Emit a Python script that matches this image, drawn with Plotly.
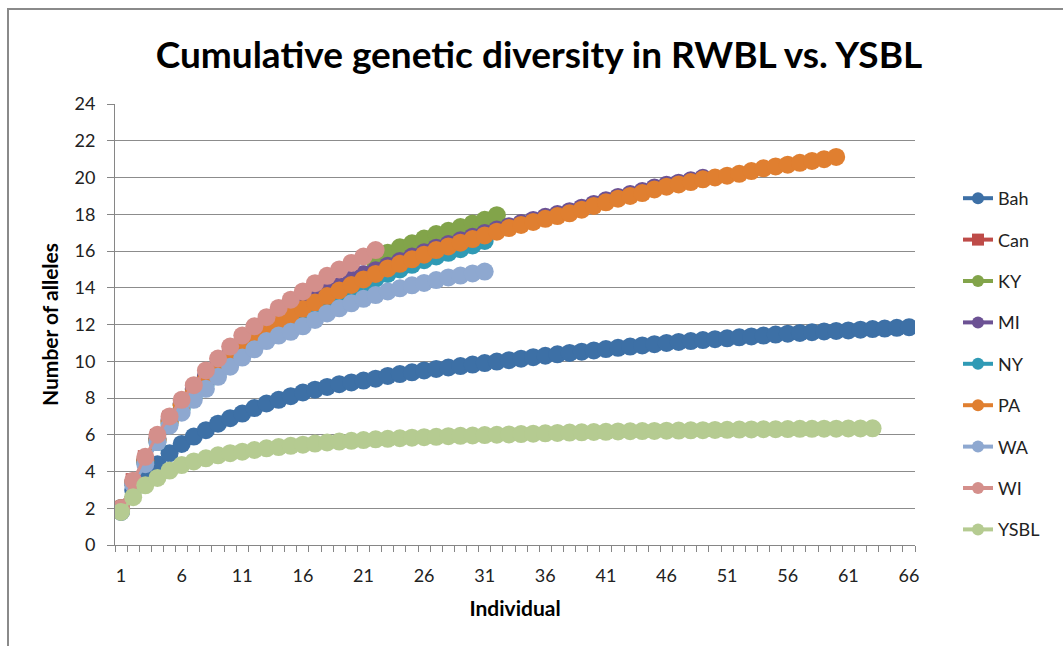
import plotly.graph_objects as go

# Cumulative number of alleles per individual sampled
bah = [1.8, 3.0, 3.8, 4.4, 5.0, 5.5, 5.9, 6.25, 6.6, 6.9, 7.15, 7.45, 7.7, 7.9, 8.1, 8.3,
       8.45, 8.6, 8.75, 8.85, 8.95, 9.05, 9.2, 9.3, 9.4, 9.5, 9.58, 9.66, 9.74, 9.82, 9.9,
       9.98, 10.06, 10.14, 10.22, 10.3, 10.38, 10.45, 10.52, 10.59, 10.66, 10.73, 10.8,
       10.86, 10.93, 11.0, 11.05, 11.1, 11.15, 11.2, 11.25, 11.3, 11.35, 11.4, 11.45, 11.5,
       11.54, 11.58, 11.62, 11.65, 11.68, 11.72, 11.75, 11.78, 11.82, 11.85]
can = [2.0, 3.5, 4.75, 5.9, 6.9, 7.75, 8.5, 9.25, 9.9, 10.5, 11.05, 11.55]
ky = [1.95, 3.35, 4.55, 5.75, 6.75, 7.65, 8.45, 9.15, 9.75, 10.35, 10.85, 11.35, 11.8,
      12.25, 12.65, 13.05, 13.4, 13.75, 14.05, 14.4, 14.7, 15.3, 15.9, 16.2, 16.42, 16.68,
      16.92, 17.1, 17.3, 17.5, 17.7, 17.95]
mi = [2.0, 3.4, 4.6, 5.8, 6.8, 7.7, 8.5, 9.2, 9.8, 10.4, 10.9, 11.4, 11.85, 12.3, 12.7,
      13.1, 13.45, 13.8, 14.1, 14.45, 14.75, 14.95, 15.2, 15.45, 15.7, 15.93, 16.18, 16.38,
      16.58, 16.78, 16.98, 17.17, 17.35, 17.52, 17.69, 17.86, 18.01, 18.17, 18.36, 18.56,
      18.76, 18.94, 19.1, 19.26, 19.45, 19.6, 19.72, 19.85, 19.98]
ny = [2.0, 3.4, 4.5, 5.6, 6.6, 7.4, 8.1, 8.8, 9.4, 9.95, 10.45, 10.9, 11.35, 11.8, 12.2,
      12.6, 12.95, 13.3, 13.6, 13.9, 14.2, 14.5, 14.75, 15.0, 15.25, 15.5, 15.7, 15.9, 16.1,
      16.3, 16.55]
pa = [2.0, 3.4, 4.6, 5.7, 6.7, 7.6, 8.3, 9.0, 9.6, 10.15, 10.7, 11.15, 11.6, 12.05, 12.5,
      12.85, 13.2, 13.55, 13.85, 14.15, 14.45, 14.75, 15.05, 15.3, 15.55, 15.8, 16.05, 16.25,
      16.45, 16.65, 16.85, 17.05, 17.25, 17.42, 17.58, 17.75, 17.9, 18.05, 18.25, 18.45,
      18.65, 18.85, 19.0, 19.15, 19.35, 19.5, 19.62, 19.75, 19.9, 20.0, 20.1, 20.2, 20.35,
      20.5, 20.6, 20.7, 20.8, 20.9, 21.0, 21.12]
wa = [1.9, 3.3, 4.4, 5.6, 6.5, 7.2, 7.9, 8.5, 9.15, 9.7, 10.2, 10.65, 11.1, 11.4, 11.6,
      11.9, 12.25, 12.6, 12.88, 13.15, 13.4, 13.6, 13.8, 13.97, 14.13, 14.26, 14.42, 14.56,
      14.66, 14.78, 14.88]
wi = [2.0, 3.5, 4.8, 6.0, 7.0, 7.9, 8.7, 9.5, 10.15, 10.8, 11.4, 11.9, 12.4, 12.9, 13.35,
      13.8, 14.25, 14.65, 15.0, 15.35, 15.7, 16.05]
ysbl = [1.8, 2.6, 3.25, 3.65, 4.05, 4.35, 4.55, 4.72, 4.88, 5.0, 5.08, 5.17, 5.26, 5.33,
        5.4, 5.46, 5.52, 5.58, 5.63, 5.67, 5.71, 5.75, 5.78, 5.81, 5.84, 5.87, 5.89, 5.92,
        5.94, 5.96, 5.98, 6.0, 6.02, 6.04, 6.06, 6.08, 6.1, 6.12, 6.13, 6.15, 6.16, 6.18,
        6.19, 6.2, 6.21, 6.22, 6.23, 6.24, 6.25, 6.26, 6.27, 6.28, 6.29, 6.3, 6.3, 6.31,
        6.32, 6.32, 6.33, 6.33, 6.34, 6.34, 6.35]

series_names = ["Bah", "Can", "KY", "MI", "NY", "PA", "WA", "WI", "YSBL"]
series_values = [bah, can, ky, mi, ny, pa, wa, wi, ysbl]
series_colors = ["#3D70A6", "#BE4B48", "#82A44A", "#6C5294", "#2F9AB5",
                 "#E07F30", "#8EA8D0", "#D48F8B", "#B5CB91"]
series_symbols = ["circle", "square", "circle", "circle", "circle",
                  "circle", "circle", "circle", "circle"]

x_tick_labels = [str(v) for v in range(1, 67, 5)]
y_tick_labels = [str(v) for v in range(0, 25, 2)]

FONT = "Lato"

fig = go.Figure()
for name, vals, color, sym in zip(series_names, series_values, series_colors, series_symbols):
    xs = list(range(1, len(vals) + 1))
    fig.add_trace(go.Scatter(
        x=xs, y=vals, mode="lines+markers", name=name, legendgroup=name,
        showlegend=False,
        line=dict(color=color, width=3),
        marker=dict(color=color, size=18 if sym == "circle" else 15, symbol=sym,
                    line=dict(width=0)),
    ))
# legend entries with smaller symbols
for name, color, sym in zip(series_names, series_colors, series_symbols):
    fig.add_trace(go.Scatter(
        x=[None], y=[None], mode="lines+markers", name=name, legendgroup=name,
        line=dict(color=color, width=4),
        marker=dict(color=color, size=12, symbol=sym),
    ))

L, R, T, B = 115, 148, 104, 101
W, H = 1063, 646
pw, ph = W - L - R, H - T - B

def px_to_paper(px, py):
    return (px - L) / pw, (H - B - py) / ph

bx0, by0 = px_to_paper(8, 9)

fig.update_layout(
    width=W, height=H,
    margin=dict(l=L, r=R, t=T, b=B, pad=0),
    paper_bgcolor="white", plot_bgcolor="white",
    font=dict(family=FONT, size=18, color="#222222"),
    title=dict(text="<b>Cumulative genetic diversity in RWBL vs. YSBL</b>",
               x=539 / W, xanchor="center", y=1 - 55 / H, yanchor="middle",
               font=dict(family=FONT, size=37, color="black")),
    xaxis=dict(
        range=[0.5, 66.5], tickmode="array",
        tickvals=list(range(1, 67, 5)), ticktext=x_tick_labels,
        ticks="", showgrid=False, zeroline=False,
        showline=True, linecolor="#868686", linewidth=1,
        tickfont=dict(family=FONT, size=18, color="#222222"),
        ticklabelstandoff=14,
        minor=dict(ticks="outside", tick0=0.5, dtick=1, ticklen=6,
                   tickcolor="#868686", showgrid=False),
        title=dict(text="<b>Individual</b>", font=dict(family=FONT, size=21, color="black"),
                   standoff=16),
    ),
    yaxis=dict(
        range=[0, 24], tickmode="array",
        tickvals=list(range(0, 25, 2)), ticktext=y_tick_labels,
        ticks="outside", ticklen=7, tickcolor="#868686",
        ticklabelstandoff=8,
        showgrid=True, gridcolor="#8C8C8C", gridwidth=1, zeroline=False,
        showline=True, linecolor="#868686", linewidth=1,
        tickfont=dict(family=FONT, size=18, color="#222222"),
        title=dict(text="<b>Number of alleles</b>", font=dict(family=FONT, size=21, color="black"),
                   standoff=10),
    ),
    legend=dict(
        x=(958 - L) / pw, xanchor="left", y=(H - B - 180) / ph, yanchor="top",
        traceorder="grouped", tracegroupgap=15, bgcolor="rgba(0,0,0,0)",
        font=dict(family=FONT, size=18, color="#222222"),
        itemsizing="trace",
    ),
    shapes=[dict(type="rect", xref="paper", yref="paper",
                 x0=bx0, y0=-1.0, x1=2.0, y1=by0,
                 line=dict(color="#8A8A8A", width=2), fillcolor="rgba(0,0,0,0)",
                 layer="below")],
    showlegend=True,
)

fig.write_html("out.html")
